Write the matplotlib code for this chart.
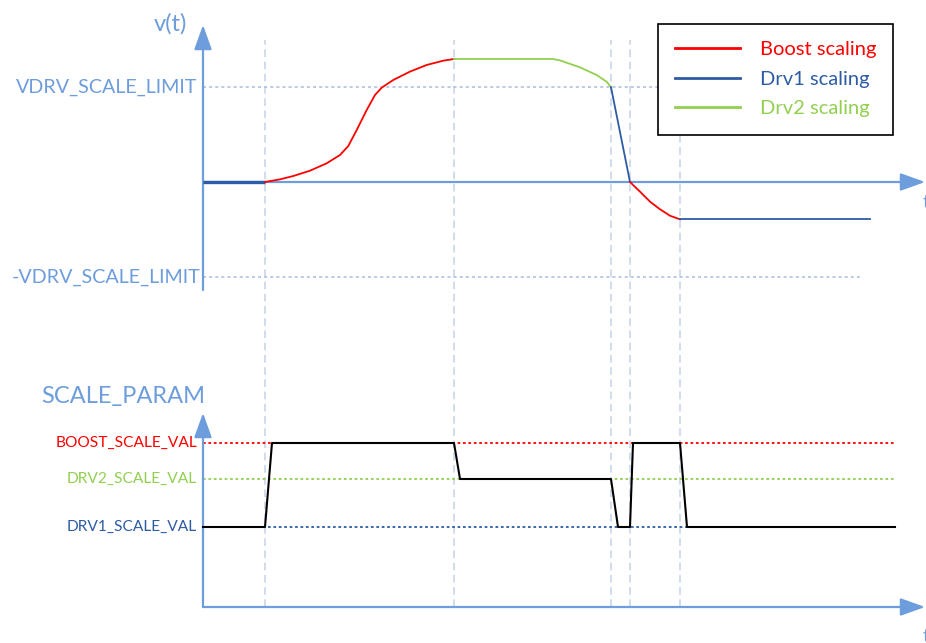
import matplotlib
matplotlib.use('Agg')
import matplotlib.pyplot as plt
from matplotlib.lines import Line2D

plt.rcParams['font.family'] = ['Lato', 'DejaVu Sans']

# colours
AXIS_BLUE = '#6d9ddc'
RED = '#ff0000'
DRV1_BLUE = '#2e5ca4'
GREEN = '#92d050'
GRID = '#c3d2e8'

# event times (boundaries between scaling modes)
t_events = [6.2, 25.1, 40.8, 42.7, 47.7]

# v(t) in units of VDRV_SCALE_LIMIT
drv1_start_t = [0, 6.2]
drv1_start_v = [0, 0]
boost1_t = [6.2, 7.7, 9.03, 10.7, 12.37, 13.7, 14.53, 15.37, 16.37, 17.2, 17.87,
            19.03, 20.7, 22.37, 24.03, 25.1]
boost1_v = [0, 0.028, 0.063, 0.119, 0.197, 0.284, 0.379, 0.547, 0.758, 0.916, 0.993,
            1.074, 1.162, 1.232, 1.277, 1.295]
drv2_t = [25.1, 35.0, 35.7, 37.7, 39.37, 40.37, 40.8]
drv2_v = [1.295, 1.295, 1.28, 1.207, 1.126, 1.055, 0.998]
drv1_mid_t = [40.8, 42.7]
drv1_mid_v = [0.998, 0]
boost2_t = [42.7, 43.7, 44.7, 45.7, 46.7, 47.7]
boost2_v = [0, -0.102, -0.207, -0.287, -0.355, -0.393]
drv1_end_t = [47.7, 66.7]
drv1_end_v = [-0.393, -0.393]

VDRV_LIMIT = 1.0

# SCALE_PARAM levels and signal
DRV1_VAL = 2.0
DRV2_VAL = 3.2
BOOST_VAL = 4.1
param_t = [0, 6.2, 6.9, 25.1, 25.7, 40.8, 41.5, 42.7, 43.0, 47.7, 48.4, 69.2]
param_v = [DRV1_VAL, DRV1_VAL, BOOST_VAL, BOOST_VAL, DRV2_VAL, DRV2_VAL,
           DRV1_VAL, DRV1_VAL, BOOST_VAL, BOOST_VAL, DRV1_VAL, DRV1_VAL]

fig = plt.figure(figsize=(9.26, 6.43), dpi=100)

# both axes cover the whole figure; limits chosen so the two panels stack
ax = fig.add_axes([0, 0, 1, 1])
ax.set_xlim(-20.3, 72.3)
ax.set_ylim((182 - 643) / 95, 182 / 95)
ax.axis('off')
ax.patch.set_alpha(0)

bx = fig.add_axes([0, 0, 1, 1])
bx.set_xlim(-20.3, 72.3)
bx.set_ylim(-0.9, 607 / 40)
bx.axis('off')
bx.patch.set_alpha(0)

# vertical dashed event lines spanning both panels
ax.vlines(t_events, -4.474, 1.495, colors=GRID, linestyles=(0, (5, 3)), lw=1.1, zorder=1)

# ---- top panel ----
ax.plot([0, 65.7], [VDRV_LIMIT, VDRV_LIMIT], color='#a9bddb', ls=(0, (2, 2)), lw=1.1, zorder=1)
ax.plot([0, 65.9], [-VDRV_LIMIT, -VDRV_LIMIT], color='#a9bddb', ls=(0, (2, 2)), lw=1.1, zorder=1)

arrow_kw = dict(arrowstyle='-|>,head_length=0.75,head_width=0.27', mutation_scale=20,
                color=AXIS_BLUE, lw=1.6, shrinkA=0, shrinkB=0)
ax.annotate('', xy=(72.2, 0), xytext=(0, 0), arrowprops=arrow_kw, zorder=2)
ax.annotate('', xy=(0, (182 - 25) / 95), xytext=(0, (182 - 290) / 95), arrowprops=arrow_kw, zorder=2)

line_kw = dict(lw=1.3, zorder=3, solid_joinstyle='round')
ax.plot(drv1_start_t, drv1_start_v, color=DRV1_BLUE, lw=2.4, zorder=3, solid_capstyle='butt')
ax.plot(boost1_t, boost1_v, color=RED, **line_kw)
ax.plot(drv2_t, drv2_v, color=GREEN, **line_kw)
ax.plot(drv1_mid_t, drv1_mid_v, color=DRV1_BLUE, **line_kw)
ax.plot(boost2_t, boost2_v, color=RED, **line_kw)
ax.plot(drv1_end_t, drv1_end_v, color=DRV1_BLUE, **line_kw)

ax.text(-1.6, (182 - 24) / 95, 'v(t)', color=AXIS_BLUE, fontsize=17, ha='right', va='center')
ax.text(-0.6, VDRV_LIMIT, 'VDRV_SCALE_LIMIT', color=AXIS_BLUE, fontsize=14.2, ha='right', va='center')
ax.text(-0.3, -VDRV_LIMIT, '-VDRV_SCALE_LIMIT', color=AXIS_BLUE, fontsize=14.2, ha='right', va='center')
ax.text(72.0, -0.22, 't', color=AXIS_BLUE, fontsize=14, ha='left', va='center')

handles = [Line2D([], [], color=RED, lw=2),
           Line2D([], [], color=DRV1_BLUE, lw=2),
           Line2D([], [], color=GREEN, lw=2)]
leg = ax.legend(handles, ['Boost scaling', 'Drv1 scaling', 'Drv2 scaling'],
                loc='upper left', bbox_to_anchor=(658 / 926, 1 - 24 / 643),
                frameon=True, fancybox=False, edgecolor='black', framealpha=1,
                fontsize=14.5, handlelength=3.2, handletextpad=1.0, labelspacing=0.62,
                borderpad=0.85, borderaxespad=0, labelcolor='linecolor')
leg.get_frame().set_linewidth(1.2)
leg.set_zorder(5)

# ---- bottom panel ----
bx.plot([0, 69.2], [BOOST_VAL, BOOST_VAL], color=RED, ls=(0, (1.5, 1.5)), lw=1.3, zorder=1)
bx.plot([0, 69.2], [DRV2_VAL, DRV2_VAL], color=GREEN, ls=(0, (1.5, 1.5)), lw=1.3, zorder=1)
bx.plot([0, 69.2], [DRV1_VAL, DRV1_VAL], color=DRV1_BLUE, ls=(0, (1.5, 1.5)), lw=1.3, zorder=1)

bx.annotate('', xy=(72.2, 0), xytext=(0, 0), arrowprops=arrow_kw, zorder=2)
bx.annotate('', xy=(0, (607 - 413) / 40), xytext=(0, 0), arrowprops=arrow_kw, zorder=2)

bx.plot(param_t, param_v, color='black', lw=1.5, zorder=3)

bx.text(0.2, (607 - 396) / 40, 'SCALE_PARAM', color=AXIS_BLUE, fontsize=17, ha='right', va='center')
bx.text(-0.6, BOOST_VAL, 'BOOST_SCALE_VAL', color=RED, fontsize=11.2, ha='right', va='center')
bx.text(-0.6, DRV2_VAL, 'DRV2_SCALE_VAL', color=GREEN, fontsize=11.2, ha='right', va='center')
bx.text(-0.6, DRV1_VAL, 'DRV1_SCALE_VAL', color=DRV1_BLUE, fontsize=11.2, ha='right', va='center')
bx.text(72.0, -0.75, 't', color=AXIS_BLUE, fontsize=14, ha='left', va='center')

plt.savefig('out.png', dpi=100)
